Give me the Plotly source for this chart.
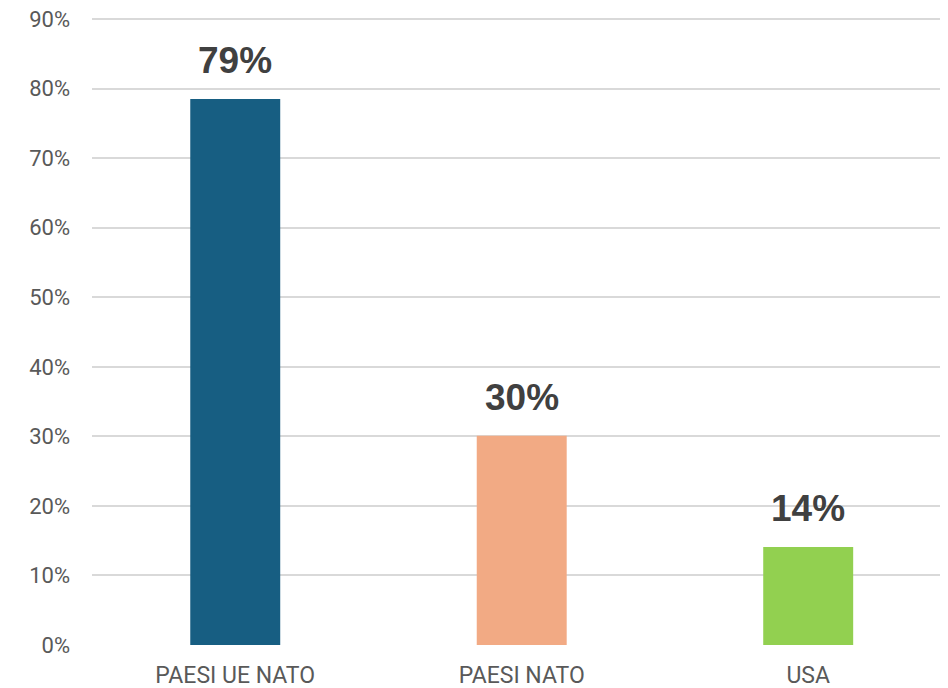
import plotly.graph_objects as go

categories = ["PAESI UE NATO", "PAESI NATO", "USA"]
values = [0.785, 0.301, 0.141]
value_labels = ["79%", "30%", "14%"]
colors = ["#175E82", "#F2AA84", "#92D050"]
y_ticks = [i / 10 for i in range(10)]
y_tick_labels = [f"{i*10}%" for i in range(10)]

fig = go.Figure()
fig.add_trace(go.Bar(
    x=categories, y=values, marker_color=colors, width=0.314,
    marker_line_width=0, hoverinfo="skip",
))

for c, v, t in zip(categories, values, value_labels):
    fig.add_annotation(
        x=c, y=v, text=f"<b>{t}</b>", showarrow=False, yanchor="bottom",
        yshift=16, font=dict(family="Liberation Sans, Arial", size=37, color="#404040"),
    )

fig.update_layout(
    width=948, height=688,
    margin=dict(l=84, r=8, t=9, b=51, autoexpand=False),
    paper_bgcolor="white", plot_bgcolor="white",
    showlegend=False,
    font=dict(family="Roboto, Liberation Sans", color="#595959", size=22),
    xaxis=dict(
        range=[-0.5, 2.488], showgrid=False, zeroline=False, showline=False,
        ticks="", ticklabelstandoff=14, automargin=False,
        ticklabeloverflow="allow",
        tickfont=dict(size=23, color="#595959"),
    ),
    yaxis=dict(
        range=[0, 0.903], tickvals=y_ticks, ticktext=y_tick_labels,
        showgrid=True, gridcolor="#D9D9D9", gridwidth=1.5, zeroline=False,
        showline=False, ticks="", ticklabelstandoff=21, automargin=False,
        ticklabeloverflow="allow",
        tickfont=dict(size=22, color="#595959"),
    ),
)

fig.write_html("out.html")
